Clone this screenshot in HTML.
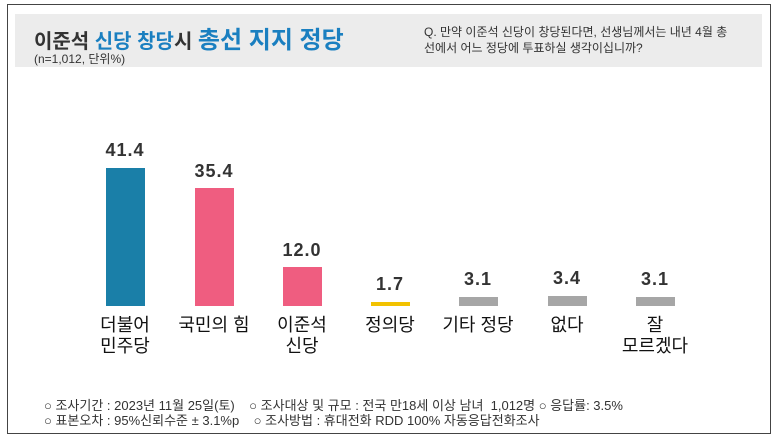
<!DOCTYPE html>
<html><head><meta charset="utf-8"><style>
body{margin:0;width:780px;height:438px;background:#fff;position:relative;overflow:hidden;font-family:"Liberation Sans","Noto Sans CJK KR",sans-serif;}
.frame{position:absolute;left:7px;top:4px;width:764px;height:430px;border:1.5px solid #444;box-sizing:border-box;}
.band{position:absolute;left:15px;top:14px;width:747px;height:53px;background:#ececec;}
.t{position:absolute;white-space:nowrap;color:#222;}
.bar{position:absolute;width:39px;}
.v{position:absolute;width:80px;text-align:center;font-size:18px;font-weight:bold;color:#333;letter-spacing:1px}
.c{position:absolute;width:90px;text-align:center;font-size:18px;line-height:21px;color:#111}
</style></head><body>
<div class="frame"></div>
<div class="band"></div>
<div class="t" style="left:34px;top:20px;font-size:20px;font-weight:bold;color:#333">이준석 <span style="color:#1a7fc0">신당 창당</span>시 <span style="color:#1a7fc0;font-size:24px">총선 지지 정당</span></div>
<div class="t" style="left:34px;top:50px;font-size:12px;color:#333">(n=1,012, 단위%)</div>
<div class="t" style="left:424px;top:24px;font-size:12px;color:#333;line-height:16px">Q. 만약 이준석 신당이 창당된다면, 선생님께서는 내년 4월 총<br>선에서 어느 정당에 투표하실 생각이십니까?</div>

<div class="bar" style="left:106px;top:168px;height:138px;background:#1a7fa8"></div>
<div class="bar" style="left:195px;top:188px;height:118px;background:#ef5d80"></div>
<div class="bar" style="left:283px;top:267px;height:39px;background:#ef5d80"></div>
<div class="bar" style="left:371px;top:302px;height:4px;background:#f2c200"></div>
<div class="bar" style="left:459px;top:297px;height:9px;background:#a6a6a6"></div>
<div class="bar" style="left:548px;top:296px;height:10px;background:#a6a6a6"></div>
<div class="bar" style="left:636px;top:297px;height:9px;background:#a6a6a6"></div>

<div class="v" style="left:85px;top:140px">41.4</div>
<div class="v" style="left:174px;top:161px">35.4</div>
<div class="v" style="left:262px;top:240px">12.0</div>
<div class="v" style="left:350px;top:274px">1.7</div>
<div class="v" style="left:438px;top:269px">3.1</div>
<div class="v" style="left:527px;top:268px">3.4</div>
<div class="v" style="left:615px;top:269px">3.1</div>

<div class="c" style="left:80px;top:315px">더불어<br>민주당</div>
<div class="c" style="left:169px;top:315px">국민의 힘</div>
<div class="c" style="left:257px;top:315px">이준석<br>신당</div>
<div class="c" style="left:345px;top:315px">정의당</div>
<div class="c" style="left:433px;top:315px">기타 정당</div>
<div class="c" style="left:522px;top:315px">없다</div>
<div class="c" style="left:610px;top:315px">잘<br>모르겠다</div>

<div class="t" style="left:44px;top:395px;font-size:13px;color:#333">○ 조사기간 : 2023년 11월 25일(토) &nbsp;&nbsp;&nbsp;○ 조사대상 및 규모 : 전국 만18세 이상 남녀 &nbsp;1,012명 ○ 응답률: 3.5%</div>
<div class="t" style="left:44px;top:410px;font-size:13px;color:#333">○ 표본오차 : 95%신뢰수준 ± 3.1%p &nbsp;&nbsp;&nbsp;○ 조사방법 : 휴대전화 RDD 100% 자동응답전화조사</div>
</body></html>
